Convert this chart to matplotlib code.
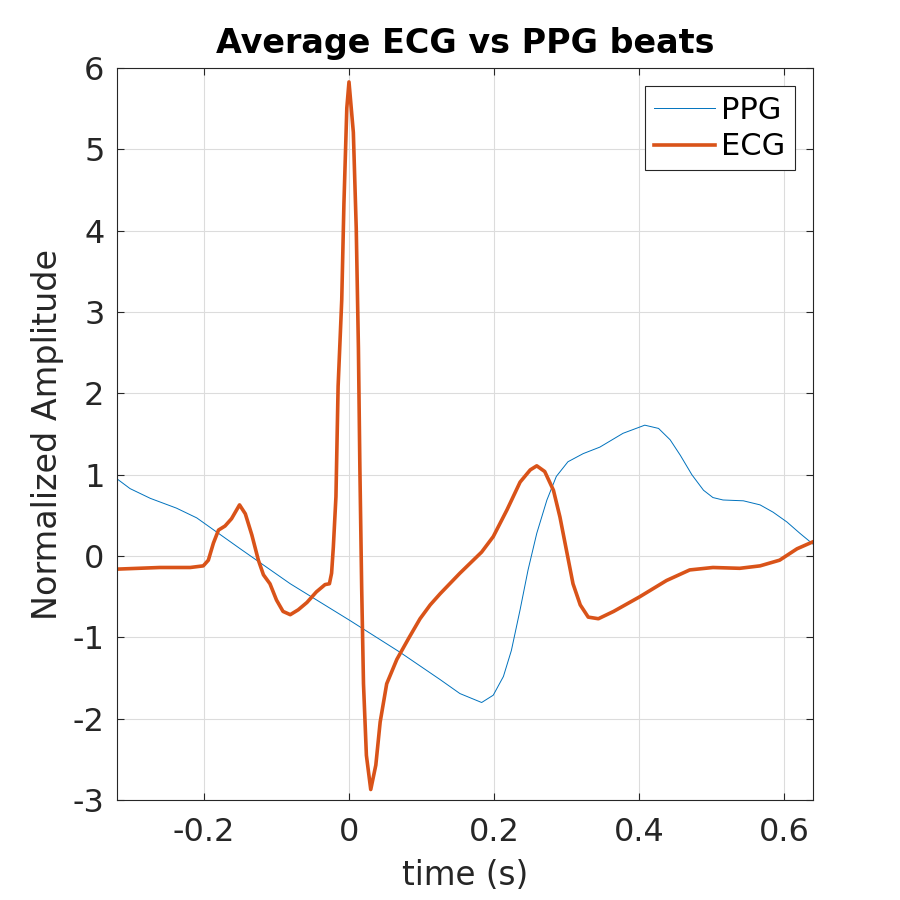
import matplotlib
matplotlib.use("Agg")
import matplotlib.pyplot as plt

# PPG beat
ppg_t = [-0.32, -0.302, -0.274, -0.238, -0.21, -0.15, -0.081, 0.001, 0.07, 0.126,
         0.153, 0.183, 0.199, 0.213, 0.224, 0.236, 0.247, 0.259, 0.273, 0.286,
         0.302, 0.323, 0.346, 0.378, 0.408, 0.427, 0.443, 0.457, 0.473, 0.489,
         0.502, 0.516, 0.544, 0.567, 0.585, 0.604, 0.622, 0.641]
ppg_y = [0.95, 0.83, 0.71, 0.59, 0.47, 0.09, -0.34, -0.79, -1.18, -1.52,
         -1.69, -1.80, -1.71, -1.48, -1.16, -0.66, -0.17, 0.28, 0.69, 0.98,
         1.16, 1.26, 1.34, 1.51, 1.61, 1.57, 1.43, 1.24, 1.00, 0.81,
         0.72, 0.69, 0.68, 0.63, 0.54, 0.42, 0.28, 0.14]

# ECG beat
ecg_t = [-0.32, -0.261, -0.219, -0.201, -0.194, -0.187, -0.180, -0.171, -0.162, -0.151,
         -0.143, -0.134, -0.125, -0.118, -0.109, -0.100, -0.091, -0.081, -0.070, -0.058,
         -0.045, -0.033, -0.027, -0.024, -0.0216, -0.018, -0.015, -0.010, -0.007, -0.003,
         0.0, 0.006, 0.010, 0.013, 0.015, 0.0175, 0.020, 0.024, 0.030, 0.037,
         0.043, 0.052, 0.066, 0.083, 0.098, 0.112, 0.126, 0.153, 0.183, 0.199,
         0.218, 0.236, 0.250, 0.259, 0.270, 0.282, 0.291, 0.300, 0.309, 0.319,
         0.330, 0.344, 0.365, 0.401, 0.438, 0.470, 0.502, 0.539, 0.567, 0.594,
         0.618, 0.641]
ecg_y = [-0.16, -0.14, -0.14, -0.12, -0.05, 0.16, 0.32, 0.37, 0.46, 0.63,
         0.52, 0.26, -0.05, -0.23, -0.34, -0.54, -0.68, -0.72, -0.66, -0.57,
         -0.44, -0.35, -0.34, -0.21, 0.11, 0.73, 2.09, 3.15, 4.33, 5.51,
         5.83, 5.21, 4.03, 2.56, 1.09, -0.39, -1.57, -2.45, -2.87, -2.57,
         -2.04, -1.57, -1.27, -1.0, -0.77, -0.60, -0.46, -0.21, 0.05, 0.24,
         0.57, 0.91, 1.06, 1.11, 1.04, 0.81, 0.48, 0.07, -0.34, -0.60,
         -0.75, -0.77, -0.68, -0.50, -0.30, -0.17, -0.14, -0.15, -0.12, -0.05,
         0.09, 0.18]

xticks = [-0.2, 0, 0.2, 0.4, 0.6]
xticklabels = ["-0.2", "0", "0.2", "0.4", "0.6"]
yticks = [-3, -2, -1, 0, 1, 2, 3, 4, 5, 6]
yticklabels = ["-3", "-2", "-1", "0", "1", "2", "3", "4", "5", "6"]

plt.rcParams['font.family'] = ['DejaVu Sans']
fig = plt.figure(figsize=(9, 9), dpi=100)
ax = fig.add_axes([0.13, 0.111, 0.7733, 0.8133])

ax.plot(ppg_t, ppg_y, color='#0072BD', lw=0.7, label='PPG')
ax.plot(ecg_t, ecg_y, color='#D95319', lw=2.6, label='ECG')

ax.set_xlim(-0.32, 0.64)
ax.set_ylim(-3, 6)
ax.set_xticks(xticks)
ax.set_xticklabels(xticklabels)
ax.set_yticks(yticks)
ax.set_yticklabels(yticklabels)
ax.grid(True, color='#dcdcdc', lw=0.8)
ax.set_axisbelow(True)
ax.tick_params(direction='in', length=5, top=True, right=True, labelsize=23,
               colors='#262626')
ax.tick_params(axis='x', pad=12)
ax.tick_params(axis='y', pad=9)
for s in ax.spines.values():
    s.set_color('#262626')
    s.set_linewidth(0.8)

ax.set_title('Average ECG vs PPG beats', fontsize=24, fontweight='bold', pad=11)
ax.set_xlabel('time (s)', fontsize=23.5, color='#262626', labelpad=8)
ax.set_ylabel('Normalized Amplitude', fontsize=24, color='#262626', labelpad=6)

leg = ax.legend(loc='upper right', fontsize=22, fancybox=False, framealpha=1,
                edgecolor='#262626', handlelength=2.0, handletextpad=0.2,
                borderpad=0.3, labelspacing=0.25, borderaxespad=0.6)
leg.get_frame().set_linewidth(0.8)

fig.savefig('out.png', dpi=100)
